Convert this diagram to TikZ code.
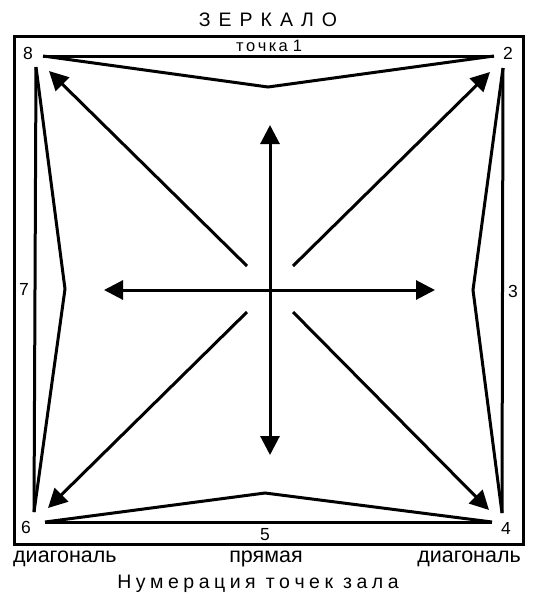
\documentclass[tikz,border=0pt]{standalone}
\usepackage{fontspec}
\setmainfont{Liberation Sans}
\usetikzlibrary{arrows.meta}
\begin{document}
\begin{tikzpicture}[x=1pt,y=-1pt,
  ln/.style={line width=3pt, line join=miter},
  arr/.style={line width=3pt, -{Triangle[length=19pt,width=19pt]}},
  darr/.style={line width=3pt, {Triangle[length=19pt,width=19pt]}-{Triangle[length=19pt,width=19pt]}},
  lab/.style={inner sep=0pt, font=\fontsize{17.5}{17.5}\selectfont},
  blab/.style={inner sep=0pt, font=\fontsize{21.5}{21.5}\selectfont},
  ttl/.style={inner sep=0pt, font=\fontsize{19.5}{19.5}\selectfont}]
\useasboundingbox (0,0) rectangle (533,598);
% frame
\draw[line width=3pt] (14,36) rectangle (523,544);
% polygon points
\coordinate (p8) at (43,56);
\coordinate (p2) at (494,56);
\coordinate (p8v) at (36,67);
\coordinate (p6v) at (34,512);
\coordinate (p2v) at (503,68);
\coordinate (p4v) at (502,513);
\coordinate (p6) at (45,522);
\coordinate (p4) at (492,522);
\coordinate (t1) at (268,87);
\coordinate (l7) at (65,289);
\coordinate (r3) at (473,290);
\coordinate (b5) at (265,493);
% lines
\draw[ln] (p8) -- (p2);
\draw[ln] (p8) -- (t1) -- (p2);
\draw[ln] (p8v) -- (p6v);
\draw[ln] (p8v) -- (l7) -- (p6v);
\draw[ln] (p2v) -- (p4v);
\draw[ln] (p2v) -- (r3) -- (p4v);
\draw[ln] (p6) -- (p4);
\draw[ln] (p6) -- (b5) -- (p4);
% arrows
\coordinate (c) at (270,290);
\coordinate (up) at (270,125);
\coordinate (dn) at (270,455);
\coordinate (lf) at (104,290);
\coordinate (rt) at (435,290);
\coordinate (nw0) at (247,266);
\coordinate (ne0) at (293,266);
\coordinate (sw0) at (247,312);
\coordinate (se0) at (293,312);
\coordinate (nw) at (49,71);
\coordinate (ne) at (490,72);
\coordinate (sw) at (48,508);
\coordinate (se) at (489,510);
\draw[darr] (dn) -- (up);
\draw[darr] (lf) -- (rt);
\draw[arr] (nw0) -- (nw);
\draw[arr] (ne0) -- (ne);
\draw[arr] (sw0) -- (sw);
\draw[arr] (se0) -- (se);
% labels
\node[lab] (n8) at (28,53) {8};
\node[lab] (n2) at (508,53) {2};
\node[lab, font=\fontsize{16.5}{16.5}\selectfont] (n1) at (269,46) {т\kern2.5pt о\kern2.5pt ч\kern2.5pt к\kern2.5pt а\kern5pt 1};
\node[lab] (n7) at (24,289) {7};
\node[lab] (n3) at (513,291) {3};
\node[lab] (n6) at (26,527) {6};
\node[lab] (n4) at (506,528) {4};
\node[lab] (n5) at (265,535) {5};
\node[ttl] (top) at (268,20) {З\kern8pt Е\kern8pt Р\kern8pt К\kern8pt А\kern8pt Л\kern8pt О};
\node[blab, anchor=base west] (dl) at (13,562) {диагональ};
\node[blab, anchor=base] (pr) at (266,562) {прямая};
\node[blab, anchor=base east] (dr) at (521,562) {диагональ};
\node[ttl] (bot) at (258,584) {Н\kern4.5pt у\kern4.5pt м\kern4.5pt е\kern4.5pt р\kern4.5pt а\kern4.5pt ц\kern4.5pt и\kern4.5pt я\kern10pt т\kern4.5pt о\kern4.5pt ч\kern4.5pt е\kern4.5pt к\kern10pt з\kern4.5pt а\kern4.5pt л\kern4.5pt а};
\end{tikzpicture}
\end{document}
